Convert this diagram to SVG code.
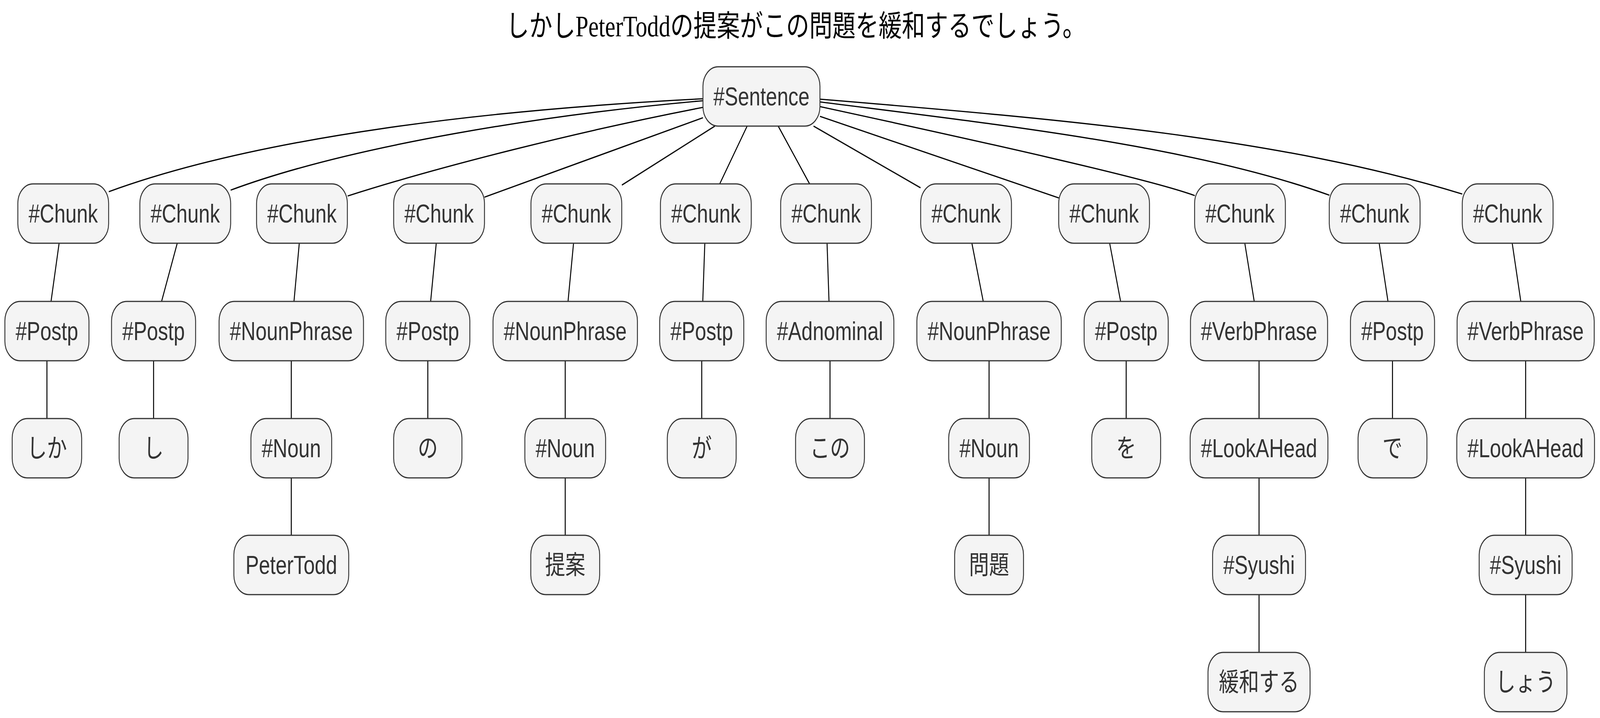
<svg xmlns="http://www.w3.org/2000/svg" width="5251" height="1839" viewBox="0 0 5251 1839" preserveAspectRatio="none" style="width:100%;height:100%">
<style>
.nd rect{fill:#f4f4f4;stroke:#333;stroke-width:3}
.nd text{font-family:"Liberation Sans",Arial,"Noto Sans CJK JP",sans-serif;font-size:66px;fill:#333;text-anchor:middle}
.edge{fill:none;stroke:#000;stroke-width:3.2}
.title{font-family:"Liberation Serif","Noto Sans CJK JP",serif;font-size:76px;fill:#000;text-anchor:middle}
</style>
<rect width="5251" height="1839" fill="#fff"/>
<text class="title" x="2612" y="93">しかしPeterToddの提案がこの問題を緩和するでしょう。</text>
<g id="connectors">
<path class="edge" d="M2307,253 C1606,281 857,348.5 357,491"/>
<path class="edge" d="M2307,258 C1806,292.5 1157,371 757,487"/>
<path class="edge" d="M2307,275 C1907,335 1441,427 1141,502"/>
<path class="edge" d="M2307,301.5 L1590,505"/>
<path class="edge" d="M2346,323 L2041,474"/>
<path class="edge" d="M2452,323 L2362,471"/>
<path class="edge" d="M2554,323 L2657,471"/>
<path class="edge" d="M2670,323 L3021,481"/>
<path class="edge" d="M2691,298 L3475,507"/>
<path class="edge" d="M2691,273 C3193,358 3771,457.5 3921,501"/>
<path class="edge" d="M2691,261 C3293,321 3913,374 4363,500"/>
<path class="edge" d="M2691,254 C3492,306 4199,353 4799,497"/>
<path class="edge" d="M194,623 L167.5,772"/>
<path class="edge" d="M581.7,623 L530.3,772"/>
<path class="edge" d="M982.2,623 L964.8,772"/>
<path class="edge" d="M1431.7,623 L1413.3,772"/>
<path class="edge" d="M1882.3,623 L1864.2,772"/>
<path class="edge" d="M2313.1,623 L2306.4,772"/>
<path class="edge" d="M2714.3,623 L2720.7,772"/>
<path class="edge" d="M3189.6,623 L3226.9,772"/>
<path class="edge" d="M3641.8,623 L3677.7,772"/>
<path class="edge" d="M4085.3,623 L4116.2,772"/>
<path class="edge" d="M4526.3,623 L4555.2,772"/>
<path class="edge" d="M4962.9,623 L4991.1,772"/>
<path class="edge" d="M154,924 V1072 M504,924 V1072 M956,924 V1072 M1404,924 V1072 M1855,924 V1072 M2303,924 V1072 M2724,924 V1072 M3246,924 V1072 M3696,924 V1072 M4132,924 V1072 M4570,924 V1072 M5007,924 V1072"/>
<path class="edge" d="M956,1224 V1371 M1855,1224 V1371 M3246,1224 V1371 M4132,1224 V1371 M5007,1224 V1371"/>
<path class="edge" d="M4132,1523 V1671 M5007,1523 V1671"/>
</g>
<g id="sentence" class="nd"><rect x="2307" y="171" width="384" height="152" rx="50"/><text x="2499" y="270">#Sentence</text></g>
<g id="chunk1" class="nd"><rect x="58.5" y="471" width="298" height="152" rx="50"/><text x="207.5" y="570">#Chunk</text></g>
<g id="chunk2" class="nd"><rect x="459" y="471" width="298" height="152" rx="50"/><text x="608" y="570">#Chunk</text></g>
<g id="chunk3" class="nd"><rect x="842" y="471" width="298" height="152" rx="50"/><text x="991" y="570">#Chunk</text></g>
<g id="chunk4" class="nd"><rect x="1292" y="471" width="298" height="152" rx="50"/><text x="1441" y="570">#Chunk</text></g>
<g id="chunk5" class="nd"><rect x="1742.5" y="471" width="298" height="152" rx="50"/><text x="1891.5" y="570">#Chunk</text></g>
<g id="chunk6" class="nd"><rect x="2167.5" y="471" width="298" height="152" rx="50"/><text x="2316.5" y="570">#Chunk</text></g>
<g id="chunk7" class="nd"><rect x="2562" y="471" width="298" height="152" rx="50"/><text x="2711" y="570">#Chunk</text></g>
<g id="chunk8" class="nd"><rect x="3021.5" y="471" width="298" height="152" rx="50"/><text x="3170.5" y="570">#Chunk</text></g>
<g id="chunk9" class="nd"><rect x="3474.5" y="471" width="298" height="152" rx="50"/><text x="3623.5" y="570">#Chunk</text></g>
<g id="chunk10" class="nd"><rect x="3920.5" y="471" width="298" height="152" rx="50"/><text x="4069.5" y="570">#Chunk</text></g>
<g id="chunk11" class="nd"><rect x="4362.5" y="471" width="298" height="152" rx="50"/><text x="4511.5" y="570">#Chunk</text></g>
<g id="chunk12" class="nd"><rect x="4799" y="471" width="298" height="152" rx="50"/><text x="4948" y="570">#Chunk</text></g>
<g id="postp1" class="nd"><rect x="16" y="772" width="276" height="152" rx="50"/><text x="154" y="871">#Postp</text></g>
<g id="postp2" class="nd"><rect x="366" y="772" width="276" height="152" rx="50"/><text x="504" y="871">#Postp</text></g>
<g id="nounphrase3" class="nd"><rect x="719" y="772" width="474" height="152" rx="50"/><text x="956" y="871">#NounPhrase</text></g>
<g id="postp4" class="nd"><rect x="1266" y="772" width="276" height="152" rx="50"/><text x="1404" y="871">#Postp</text></g>
<g id="nounphrase5" class="nd"><rect x="1618" y="772" width="474" height="152" rx="50"/><text x="1855" y="871">#NounPhrase</text></g>
<g id="postp6" class="nd"><rect x="2165" y="772" width="276" height="152" rx="50"/><text x="2303" y="871">#Postp</text></g>
<g id="adnominal7" class="nd"><rect x="2514.5" y="772" width="419" height="152" rx="50"/><text x="2724" y="871">#Adnominal</text></g>
<g id="nounphrase8" class="nd"><rect x="3009" y="772" width="474" height="152" rx="50"/><text x="3246" y="871">#NounPhrase</text></g>
<g id="postp9" class="nd"><rect x="3558" y="772" width="276" height="152" rx="50"/><text x="3696" y="871">#Postp</text></g>
<g id="verbphrase10" class="nd"><rect x="3907" y="772" width="450" height="152" rx="50"/><text x="4132" y="871">#VerbPhrase</text></g>
<g id="postp11" class="nd"><rect x="4432" y="772" width="276" height="152" rx="50"/><text x="4570" y="871">#Postp</text></g>
<g id="verbphrase12" class="nd"><rect x="4782" y="772" width="450" height="152" rx="50"/><text x="5007" y="871">#VerbPhrase</text></g>
<g id="w-shika" class="nd"><rect x="40" y="1072" width="228" height="152" rx="50"/><text x="154" y="1171">しか</text></g>
<g id="w-shi" class="nd"><rect x="391" y="1072" width="226" height="152" rx="50"/><text x="504" y="1171">し</text></g>
<g id="noun3" class="nd"><rect x="823.5" y="1072" width="265" height="152" rx="50"/><text x="956" y="1171">#Noun</text></g>
<g id="w-no" class="nd"><rect x="1292" y="1072" width="224" height="152" rx="50"/><text x="1404" y="1171">の</text></g>
<g id="noun5" class="nd"><rect x="1722.5" y="1072" width="265" height="152" rx="50"/><text x="1855" y="1171">#Noun</text></g>
<g id="w-ga" class="nd"><rect x="2190" y="1072" width="226" height="152" rx="50"/><text x="2303" y="1171">が</text></g>
<g id="w-kono" class="nd"><rect x="2611" y="1072" width="226" height="152" rx="50"/><text x="2724" y="1171">この</text></g>
<g id="noun8" class="nd"><rect x="3113.5" y="1072" width="265" height="152" rx="50"/><text x="3246" y="1171">#Noun</text></g>
<g id="w-wo" class="nd"><rect x="3583" y="1072" width="226" height="152" rx="50"/><text x="3696" y="1171">を</text></g>
<g id="lookahead10" class="nd"><rect x="3906" y="1072" width="452" height="152" rx="50"/><text x="4132" y="1171">#LookAHead</text></g>
<g id="w-de" class="nd"><rect x="4457" y="1072" width="226" height="152" rx="50"/><text x="4570" y="1171">で</text></g>
<g id="lookahead12" class="nd"><rect x="4781" y="1072" width="452" height="152" rx="50"/><text x="5007" y="1171">#LookAHead</text></g>
<g id="w-petertodd" class="nd"><rect x="767.5" y="1371" width="377" height="152" rx="50"/><text x="956" y="1470">PeterTodd</text></g>
<g id="w-teian" class="nd"><rect x="1742" y="1371" width="226" height="152" rx="50"/><text x="1855" y="1470">提案</text></g>
<g id="w-mondai" class="nd"><rect x="3133" y="1371" width="226" height="152" rx="50"/><text x="3246" y="1470">問題</text></g>
<g id="syushi10" class="nd"><rect x="3979.5" y="1371" width="305" height="152" rx="50"/><text x="4132" y="1470">#Syushi</text></g>
<g id="syushi12" class="nd"><rect x="4854.5" y="1371" width="305" height="152" rx="50"/><text x="5007" y="1470">#Syushi</text></g>
<g id="w-kanwasuru" class="nd"><rect x="3964.5" y="1671" width="335" height="152" rx="50"/><text x="4132" y="1770">緩和する</text></g>
<g id="w-shou" class="nd"><rect x="4871.5" y="1671" width="271" height="152" rx="50"/><text x="5007" y="1770">しょう</text></g>
</svg>
